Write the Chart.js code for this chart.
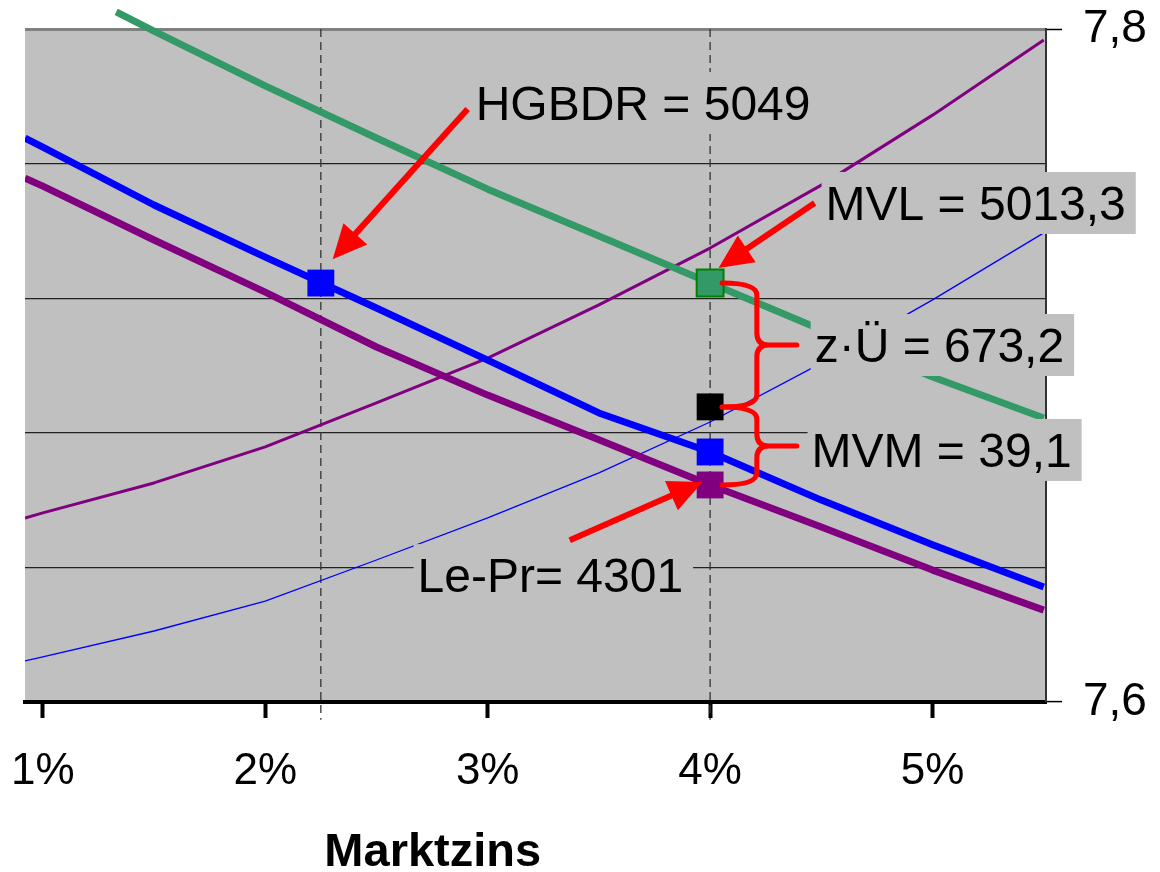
<!DOCTYPE html>
<html><head><meta charset="utf-8">
<script src="https://cdn.jsdelivr.net/npm/chart.js@4/dist/chart.umd.min.js"></script>
<style>html,body{margin:0;padding:0;background:#fff}</style>
</head><body>
<canvas id="c" width="1160" height="872"></canvas>
<script>
// ---- data ----
const rates = [0.92, 1, 1.5, 2, 2.5, 3, 3.5, 4, 4.5, 5, 5.5];
const hgbdrLine = [7.7676, 7.7649, 7.7477, 7.7322, 7.7171, 7.7016, 7.6859, 7.6743, 7.6600, 7.6467, 7.6342];
const lePrLine  = [7.7557, 7.7533, 7.7373, 7.7218, 7.7055, 7.6912, 7.6779, 7.6645, 7.6520, 7.6392, 7.6273];
const risingPurple = [7.6547, 7.6562, 7.6651, 7.6758, 7.6889, 7.7022, 7.7180, 7.7349, 7.7536, 7.7744, 7.7967];
const risingBlue   = [7.6122, 7.6134, 7.6211, 7.6300, 7.6422, 7.6547, 7.6681, 7.6832, 7.7007, 7.7195, 7.7394];
const mvlRates = [1.33, 1.5, 2, 2.5, 3, 3.5, 4, 4.5, 5, 5.5];
const mvlLine  = [7.8051, 7.7994, 7.7831, 7.7676, 7.7524, 7.7385, 7.7245, 7.7106, 7.6966, 7.6844];
const markerX = [2.25, 4, 4, 4, 4];
const markerY = [7.7245, 7.7245, 7.6877, 7.6743, 7.6645];
const markerFill = ['#0000ff', '#339966', '#000000', '#0000ff', '#800080'];
const markerEdge = ['#0000ff', '#008000', '#000000', '#0000ff', '#800080'];
const guideX = [2.25, 4];
const xTicks = [1, 2, 3, 4, 5];
const yGrid = [7.6, 7.64, 7.68, 7.72, 7.76, 7.8];
const yLabelValues = [7.6, 7.8];
const yLabelTexts = ['7,6', '7,8'];
const xTitle = 'Marktzins';
const annLabels = [
  {text: 'HGBDR = 5049', x: 2.946, y: 7.7780},
  {text: 'MVL = 5013,3', x: 4.519, y: 7.7483},
  {text: 'z\u00B7Ü = 673,2', x: 4.470, y: 7.7061},
  {text: 'MVM = 39,1', x: 4.456, y: 7.6749},
  {text: 'Le-Pr= 4301', x: 2.685, y: 7.6377}
];
const arrows = [
  {from: [2.910, 7.7762], to: [2.303, 7.7316]},
  {from: [4.470, 7.7483], to: [4.038, 7.7290]},
  {from: [3.369, 7.6481], to: [3.966, 7.6654]}
];
const braces = [{top: 1, bottom: 2}, {top: 2, bottom: 4}];
const braceSpineX = 4.21, braceTipX = 4.39;

const FONT = '"Liberation Sans", Arial, Helvetica, sans-serif';
Chart.defaults.font.family = FONT;
Chart.defaults.color = '#000';

const pts = (xs, ys) => xs.map((x, i) => ({x, y: ys[i]}));

function lineDs(label, ys, color, width, order, xs) {
  return {type: 'line', label, data: pts(xs || rates, ys), borderColor: color, borderWidth: width,
    pointRadius: 0, fill: false, tension: 0, order, borderCapStyle: 'butt', borderJoinStyle: 'round'};
}

const datasets = [
  {type: 'scatter', label: 'Punkte', data: pts(markerX, markerY), pointStyle: 'rect', pointRadius: 19,
   backgroundColor: markerFill, borderColor: markerEdge, borderWidth: [0, 2, 0, 0, 0], order: 0, clip: false},
  lineDs('HGBDR', hgbdrLine, '#0000ff', 7, 1),
  lineDs('Le-Pr', lePrLine, '#800080', 7, 1),
  Object.assign(lineDs('MVL', mvlLine, '#339966', 7, 1, mvlRates), {clip: false}),
  lineDs('Kurve 4', risingPurple, '#800080', 3, 2),
  lineDs('Kurve 5', risingBlue, '#0000ff', 1.3, 2),
];
guideX.forEach(gx => datasets.push({type: 'line', label: 'Hilfslinie', data: [{x: gx, y: 7.8}, {x: gx, y: 7.5947}],
  borderColor: '#333', borderWidth: 1.3, borderDash: [8, 5], pointRadius: 0, order: 3, clip: false}));

function drawArrow(ctx, x1, y1, x2, y2) {
  const ang = Math.atan2(y2 - y1, x2 - x1);
  const hl = 34, hw = 16;
  const bx = x2 - hl * Math.cos(ang), by = y2 - hl * Math.sin(ang);
  ctx.strokeStyle = '#ff0000'; ctx.fillStyle = '#ff0000'; ctx.lineWidth = 6; ctx.lineCap = 'butt';
  ctx.beginPath(); ctx.moveTo(x1, y1); ctx.lineTo(bx + 2 * Math.cos(ang), by + 2 * Math.sin(ang)); ctx.stroke();
  ctx.beginPath(); ctx.moveTo(x2, y2);
  ctx.lineTo(bx + hw * Math.sin(ang), by - hw * Math.cos(ang));
  ctx.lineTo(bx - hw * Math.sin(ang), by + hw * Math.cos(ang));
  ctx.closePath(); ctx.fill();
}

function drawBrace(ctx, xs0, xs, xt, yt, yb) {
  const ym = (yt + yb) / 2, r = 12;
  ctx.strokeStyle = '#ff0000'; ctx.lineWidth = 5; ctx.lineJoin = 'round'; ctx.lineCap = 'round';
  ctx.beginPath();
  ctx.moveTo(xs0, yt);
  ctx.quadraticCurveTo(xs, yt, xs, yt + r);
  ctx.lineTo(xs, ym - r);
  ctx.quadraticCurveTo(xs, ym, xs + r, ym);
  ctx.lineTo(xt, ym);
  ctx.moveTo(xs + r, ym);
  ctx.quadraticCurveTo(xs, ym, xs, ym + r);
  ctx.lineTo(xs, yb - r);
  ctx.quadraticCurveTo(xs, yb, xs0, yb);
  ctx.stroke();
}

const annot = {
  id: 'annot',
  beforeDraw(chart) {
    const {ctx, chartArea: a} = chart;
    ctx.save(); ctx.fillStyle = '#c0c0c0';
    ctx.fillRect(a.left, a.top, a.right - a.left, a.bottom - a.top);
    ctx.restore();
  },
  afterDatasetsDraw(chart) {
    const {ctx, scales: {x, y}} = chart;
    ctx.save();
    braces.forEach(b => {
      const mx = x.getPixelForValue(markerX[b.top]) + 12;
      drawBrace(ctx, mx, x.getPixelForValue(braceSpineX), x.getPixelForValue(braceTipX),
        y.getPixelForValue(markerY[b.top]), y.getPixelForValue(markerY[b.bottom]));
    });
    ctx.font = '48px ' + FONT; ctx.textBaseline = 'alphabetic'; ctx.textAlign = 'left';
    annLabels.forEach(l => {
      const px = x.getPixelForValue(l.x), py = y.getPixelForValue(l.y);
      const w = ctx.measureText(l.text).width;
      ctx.fillStyle = '#c0c0c0';
      ctx.fillRect(px - 4, py - 31, w + 14, 62);
      ctx.fillStyle = '#000';
      ctx.fillText(l.text, px, py + 17);
    });
    arrows.forEach(a => drawArrow(ctx, x.getPixelForValue(a.from[0]), y.getPixelForValue(a.from[1]),
      x.getPixelForValue(a.to[0]), y.getPixelForValue(a.to[1])));
    ctx.restore();
  },
  afterDraw(chart) {
    const {ctx, scales: {x}} = chart;
    ctx.save();
    ctx.font = 'bold 47px ' + FONT; ctx.fillStyle = '#000'; ctx.textAlign = 'center'; ctx.textBaseline = 'middle';
    ctx.fillText(xTitle, x.getPixelForValue(2.753), chart.height - 19);
    ctx.restore();
  }
};

new Chart(document.getElementById('c'), {
  data: {datasets},
  options: {
    responsive: false, animation: false, events: [],
    layout: {padding: {left: 25, top: 29, right: 0, bottom: 0}},
    plugins: {legend: {display: false}, tooltip: {enabled: false}},
    scales: {
      x: {
        type: 'linear', position: 'bottom', min: 0.92, max: 5.51,
        afterBuildTicks: s => { s.ticks = xTicks.map(v => ({value: v})); },
        afterFit: s => { s.height = 170; s.paddingLeft = 0; s.paddingRight = 0; },
        ticks: {font: {size: 44}, color: '#000', padding: 27, maxRotation: 0, autoSkip: false,
          callback: v => v + '%'},
        grid: {drawOnChartArea: false, drawTicks: true, tickLength: 16, tickWidth: 4, tickColor: '#000'},
        border: {display: true, color: '#000', width: 4}
      },
      y: {
        type: 'linear', position: 'right', min: 7.6, max: 7.8,
        afterBuildTicks: s => { s.ticks = yGrid.map(v => ({value: v})); },
        afterFit: s => { s.width = 114; s.paddingTop = 0; s.paddingBottom = 0; },
        ticks: {font: {size: 46}, color: '#000', padding: 21, autoSkip: false,
          callback: v => { const i = yLabelValues.findIndex(t => Math.abs(t - v) < 1e-6); return i >= 0 ? yLabelTexts[i] : ''; }},
        grid: {
          drawTicks: true, tickLength: 16, tickWidth: 1.5,
          tickColor: c => yLabelValues.some(t => Math.abs(t - c.tick.value) < 1e-6) ? '#000' : 'rgba(0,0,0,0)',
          color: c => Math.abs(c.tick.value - 7.8) < 1e-6 ? '#808080' : '#222',
          lineWidth: c => Math.abs(c.tick.value - 7.8) < 1e-6 ? 3 : 1.2
        },
        border: {display: true, color: '#333', width: 2}
      }
    }
  },
  plugins: [annot]
});
</script>
</body></html>
